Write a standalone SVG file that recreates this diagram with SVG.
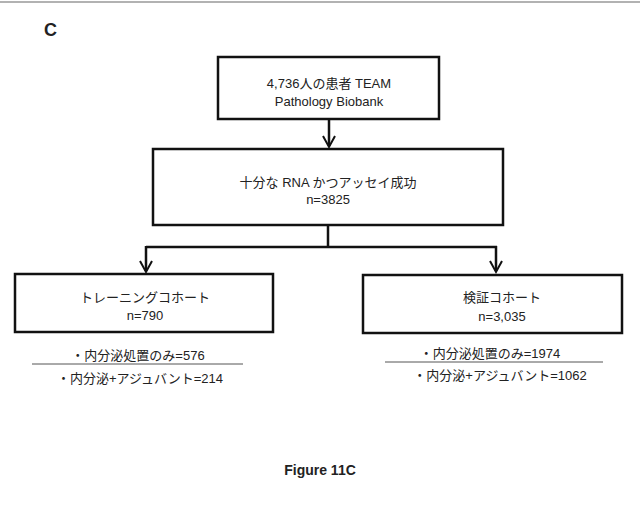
<svg xmlns="http://www.w3.org/2000/svg" width="640" height="508" viewBox="0 0 640 508">
<style>
.box{fill:#fff;stroke:#111;stroke-width:2.5}
.t{font-family:"Liberation Sans","Noto Sans CJK JP",sans-serif;font-size:13px;fill:#222;text-anchor:middle}
.c{stroke:#111;stroke-width:2.5;fill:none}
.h{stroke:#111;stroke-width:2;fill:none}
.u{stroke:#555;stroke-width:1}
</style>
<line x1="0" y1="2" x2="640" y2="2" stroke="#999" stroke-width="1.5"/>
<text x="44" y="36" font-family="Liberation Sans,sans-serif" font-size="18" font-weight="bold" fill="#222">C</text>
<g id="connectors">
<path class="c" d="M329,119 V146"/>
<path class="h" d="M323,136 L329,147 L335,136"/>
<path class="c" d="M328,225 V247 M146,247 H497"/>
<path class="c" d="M146,246 V271"/>
<path class="h" d="M140,261 L146,272 L152,261"/>
<path class="c" d="M496,246 V271"/>
<path class="h" d="M490,261 L496,272 L502,261"/>
</g>
<g id="n1"><rect class="box" x="218" y="57" width="221" height="62"/>
<text class="t" x="329" y="88">4,736人の患者 TEAM</text><text class="t" x="329" y="106">Pathology Biobank</text></g>
<g id="n2"><rect class="box" x="153" y="149" width="350" height="76"/>
<text class="t" x="328" y="187">十分な RNA かつアッセイ成功</text><text class="t" x="328" y="204">n=3825</text></g>
<g id="n3"><rect class="box" x="15" y="274" width="258" height="58"/>
<text class="t" x="145" y="302">トレーニングコホート</text><text class="t" x="145" y="320">n=790</text></g>
<g id="n4"><rect class="box" x="363" y="275" width="259" height="58"/>
<text class="t" x="502" y="302">検証コホート</text><text class="t" x="502" y="321">n=3,035</text></g>
<g id="l1"><text class="t" x="138" y="360">・内分泌処置のみ=576</text><line class="u" x1="32" y1="364" x2="243" y2="364"/><text class="t" x="140" y="383">・内分泌+アジュバント=214</text></g>
<g id="l2"><text class="t" x="490" y="358">・内分泌処置のみ=1974</text><line class="u" x1="385" y1="362" x2="603" y2="362"/><text class="t" x="500" y="380">・内分泌+アジュバント=1062</text></g>
<text x="320" y="475" font-family="Liberation Sans,sans-serif" font-size="14" font-weight="bold" fill="#222" text-anchor="middle">Figure 11C</text>
</svg>
